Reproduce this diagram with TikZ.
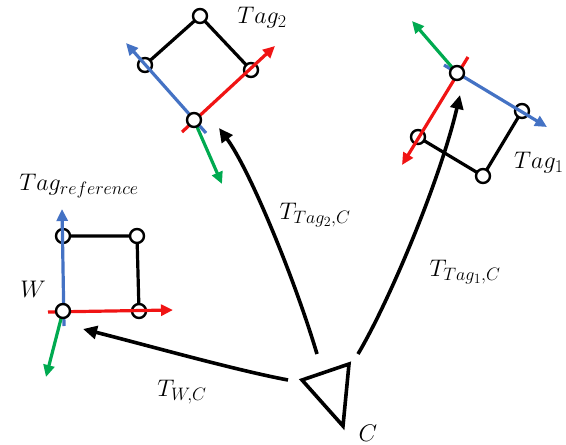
\RequirePackage{fix-cm}
\documentclass[tikz,border=0pt]{standalone}
\usetikzlibrary{arrows.meta}
\DeclareMathSizes{24}{24}{18}{14}
\definecolor{axred}{RGB}{240,20,20}
\definecolor{axblue}{RGB}{68,114,196}
\definecolor{axgreen}{RGB}{0,170,80}
\begin{document}
\begin{tikzpicture}[x=1pt,y=-1pt,
  edge/.style={line width=3.2pt, black, line cap=round},
  corner/.style={circle, draw=black, fill=white, line width=2.4pt, minimum size=14pt, inner sep=0pt},
  axis/.style={line width=3.2pt, -{Triangle[length=12pt,width=11pt]}},
  xaxis/.style={axis, draw=axred, fill=axred},
  yaxis/.style={axis, draw=axblue, fill=axblue},
  zaxis/.style={axis, draw=axgreen, fill=axgreen},
  rel/.style={line width=3.6pt, black, -{Triangle[length=14pt,width=13pt]}},
  lbl/.style={font=\fontsize{24}{28}\selectfont, inner sep=0pt}
]
\useasboundingbox (0,0) rectangle (566,445);

% ---------- reference tag (world frame W) ----------
\coordinate (rA) at (63,236);
\coordinate (rB) at (137,236);
\coordinate (rC) at (139,311);
\coordinate (rO) at (63,311);
\draw[edge] (rA) -- (rB) -- (rC);
\node[corner] (rAn) at (rA) {};
\node[corner] (rBn) at (rB) {};
\node[corner] (rCn) at (rC) {};
\coordinate (rYs) at (64,326);
\coordinate (rYe) at (62,209);
\coordinate (rXs) at (48,312);
\coordinate (rXe) at (173,310);
\coordinate (rZe) at (46,377);
\draw[yaxis] (rYs) -- (rYe);
\draw[xaxis] (rXs) -- (rXe);
\draw[zaxis] (rO) -- (rZe);
\node[corner] (rOn) at (rO) {};
\node[lbl] (tagref) at (79,186) {$Tag_{reference}$};
\node[lbl] (wlbl) at (33,289) {$W$};

% ---------- tag 2 ----------
\coordinate (tA) at (200,16);
\coordinate (tB) at (145,65);
\coordinate (tC) at (251,70);
\coordinate (tO) at (194,120);
\draw[edge] (tB) -- (tA) -- (tC);
\node[corner] (tAn) at (tA) {};
\node[corner] (tBn) at (tB) {};
\node[corner] (tCn) at (tC) {};
\coordinate (tYs) at (206,133);
\coordinate (tYe) at (126,43);
\coordinate (tXs) at (182,132);
\coordinate (tXe) at (275,46);
\coordinate (tZe) at (222,184);
\draw[yaxis] (tYs) -- (tYe);
\draw[xaxis] (tXs) -- (tXe);
\draw[zaxis] (tO) -- (tZe);
\node[corner] (tOn) at (tO) {};
\node[lbl] (tag2) at (262,18) {$Tag_2$};

% ---------- tag 1 ----------
\coordinate (sA) at (522,111);
\coordinate (sB) at (483,176);
\coordinate (sC) at (418,137);
\coordinate (sO) at (457,73);
\draw[edge] (sA) -- (sB) -- (sC);
\node[corner] (sAn) at (sA) {};
\node[corner] (sBn) at (sB) {};
\node[corner] (sCn) at (sC) {};
\coordinate (sYs) at (444,65);
\coordinate (sYe) at (547,127);
\coordinate (sXs) at (468,57);
\coordinate (sXe) at (402,165);
\coordinate (sZe) at (412,21);
\draw[yaxis] (sYs) -- (sYe);
\draw[xaxis] (sXs) -- (sXe);
\draw[zaxis] (sO) -- (sZe);
\node[corner] (sOn) at (sO) {};
\node[lbl, anchor=west] (tag1) at (514,163) {$Tag_1$};

% ---------- camera C ----------
\coordinate (c1) at (302,380);
\coordinate (c2) at (349,364);
\coordinate (c3) at (343,426);
\draw[line width=3.6pt, line join=miter] (c1) -- (c2) -- (c3) -- cycle;
\node[lbl] (clbl) at (368,433) {$C$};

% ---------- transforms from the camera ----------
\coordinate (camW) at (288,380);
\coordinate (camT2) at (317,354);
\coordinate (camT1) at (358,354);
\coordinate (endW) at (83,329);
\coordinate (endT2) at (219,128);
\coordinate (endT1) at (460,95);
\draw[rel] (camW) .. controls (235,370) and (150,346) .. (endW);
\draw[rel] (camT2) .. controls (295,280) and (250,170) .. (endT2);
\draw[rel] (camT1) .. controls (390,300) and (440,180) .. (endT1);
\node[lbl] (lW) at (182,392) {$T_{W,C}$};
\node[lbl] (lT2) at (315,215) {$T_{Tag_2,C}$};
\node[lbl] (lT1) at (465,272) {$T_{Tag_1,C}$};
\end{tikzpicture}
\end{document}
